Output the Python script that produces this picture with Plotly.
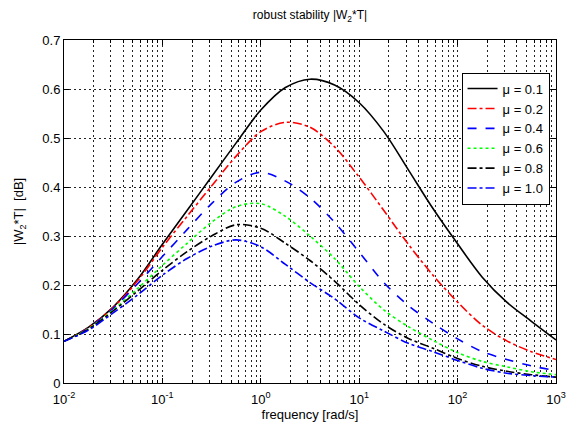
"""
Robust stability plot |W2*T| for several mu values, MATLAB look.
"""
import plotly.graph_objects as go

# frequencies (quarter decades) [rad/s]
freq = [0.01, 0.0178, 0.0316, 0.0562, 0.1, 0.178, 0.316, 0.562, 1, 1.78, 3.16,
        5.62, 10, 17.8, 31.6, 56.2, 100, 178, 316, 562, 1000]

# |W2*T| for each mu
mu_01 = [0.085, 0.114, 0.155, 0.212, 0.283, 0.352, 0.421, 0.490, 0.557, 0.603, 0.620,
         0.608, 0.572, 0.513, 0.435, 0.356, 0.284, 0.216, 0.165, 0.126, 0.088]
mu_02 = [0.085, 0.113, 0.154, 0.209, 0.277, 0.340, 0.402, 0.463, 0.513, 0.532, 0.522,
         0.482, 0.420, 0.352, 0.283, 0.220, 0.165, 0.118, 0.086, 0.064, 0.048]
mu_04 = [0.085, 0.112, 0.152, 0.203, 0.258, 0.313, 0.366, 0.410, 0.430, 0.412, 0.378,
         0.328, 0.267, 0.205, 0.158, 0.122, 0.090, 0.064, 0.048, 0.035, 0.025]
mu_06 = [0.085, 0.111, 0.149, 0.193, 0.240, 0.285, 0.328, 0.360, 0.366, 0.340, 0.300,
         0.254, 0.197, 0.149, 0.115, 0.087, 0.062, 0.044, 0.033, 0.023, 0.017]
mu_08 = [0.085, 0.110, 0.147, 0.188, 0.230, 0.268, 0.300, 0.323, 0.316, 0.285, 0.250,
         0.208, 0.160, 0.120, 0.091, 0.071, 0.050, 0.034, 0.024, 0.017, 0.012]
mu_10 = [0.085, 0.108, 0.143, 0.180, 0.220, 0.254, 0.279, 0.292, 0.278, 0.242, 0.205,
         0.172, 0.133, 0.106, 0.081, 0.064, 0.046, 0.030, 0.020, 0.015, 0.012]

labels = ["\u03bc = 0.1", "\u03bc = 0.2", "\u03bc = 0.4", "\u03bc = 0.6", "\u03bc = 0.8", "\u03bc = 1.0"]
x_tickvals = [0.01, 0.1, 1, 10, 100, 1000]
x_ticktext = ["10<sup>-2</sup>", "10<sup>-1</sup>", "10<sup>0</sup>",
              "10<sup>1</sup>", "10<sup>2</sup>", "10<sup>3</sup>"]

series = [mu_01, mu_02, mu_04, mu_06, mu_08, mu_10]
colors = ["#000000", "#ff0000", "#0000ff", "#00ff00", "#000000", "#0000ff"]
dashes = ["solid", "dashdot", "dash", "dot", "dashdot", "dashdot"]

FONT = "Liberation Sans, Arial, sans-serif"
GRID = dict(gridcolor="#222222", gridwidth=0.6, griddash="2px,3px")

fig = go.Figure()
for vals, name, col, dash in zip(series, labels, colors, dashes):
    fig.add_trace(go.Scatter(
        x=freq, y=vals, name=name, mode="lines",
        line=dict(color=col, width=1.6, dash=dash, shape="spline", smoothing=0.9),
    ))

fig.update_layout(
    width=568, height=431,
    margin=dict(l=64, r=12, t=40, b=48),
    plot_bgcolor="white", paper_bgcolor="white",
    font=dict(family=FONT, size=13, color="black"),
    title=dict(text="robust stability |W<sub>2</sub>*T|", x=0.5, xref="paper",
               y=1 - 15 / 431, yanchor="middle", font=dict(size=12)),
    legend=dict(x=0.808, y=0.905, xanchor="left", yanchor="top",
                bgcolor="white", bordercolor="black", borderwidth=1,
                font=dict(size=13), tracegroupgap=0, itemwidth=30),
    showlegend=True,
)

fig.update_xaxes(
    type="log", range=[-2, 3], automargin=False,
    tickvals=x_tickvals, ticktext=x_ticktext,
    showline=True, linecolor="black", linewidth=1, mirror="allticks",
    ticks="inside", ticklen=5, tickcolor="black",
    showgrid=True, **GRID,
    minor=dict(dtick="D1", ticks="inside", ticklen=3, tickcolor="black",
               showgrid=True, **GRID),
    title=dict(text="frequency [rad/s]", font=dict(size=13), standoff=2),
    tickfont=dict(size=13), ticklabelstandoff=4,
    zeroline=False,
)
fig.update_yaxes(
    range=[0, 0.7], dtick=0.1, tick0=0, automargin=False,
    showline=True, linecolor="black", linewidth=1, mirror="allticks",
    ticks="inside", ticklen=5, tickcolor="black",
    showgrid=True, **GRID,
    title=dict(text="|W<sub>2</sub>*T| \u00a0[dB]", font=dict(size=13)),
    tickfont=dict(size=13),
    zeroline=False,
)

# the page body has a default margin; remove it so the figure sits at (0, 0)
fig.write_html("out.html", config={"displayModeBar": False},
               post_script="document.body.style.margin='0';document.body.style.overflow='hidden';")
